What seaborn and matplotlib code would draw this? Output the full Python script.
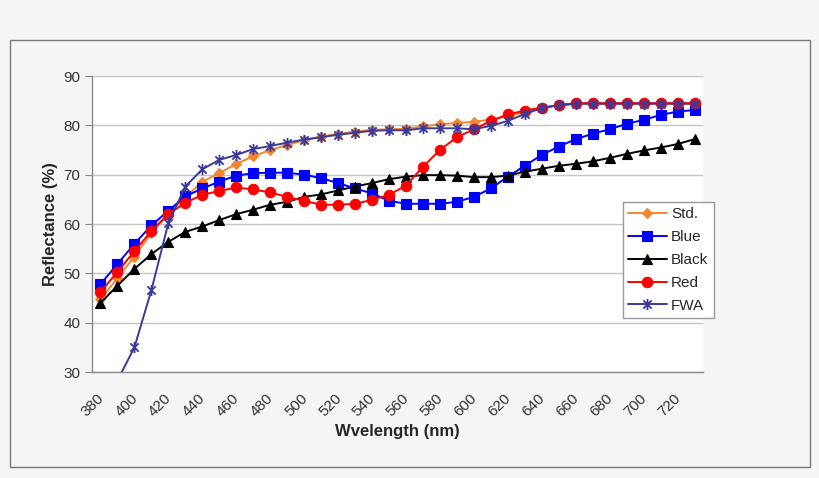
import matplotlib
matplotlib.use("Agg")
import matplotlib.pyplot as plt
import matplotlib.patches as patches
import matplotlib.transforms as mtransforms
from matplotlib.path import Path
import seaborn as sns

# wavelength categories (nm)
wavelengths = list(range(380, 740, 10))

std = [44.8, 49.0, 53.4, 58.2, 62.0, 65.4, 68.6, 70.3, 72.2, 73.7, 75.0, 76.0,
       77.0, 77.7, 78.3, 78.7, 79.1, 79.2, 79.3, 79.8, 80.2, 80.5, 80.7, 81.2,
       81.8, 82.7, 83.5, 84.0, 84.3, 84.3, 84.3, 84.3, 84.3, 84.3, 84.3, 84.3]
blue = [47.8, 51.9, 56.0, 59.7, 62.7, 65.6, 67.2, 68.6, 69.8, 70.3, 70.4, 70.4,
        70.0, 69.3, 68.3, 67.2, 66.2, 64.7, 64.1, 64.1, 64.1, 64.5, 65.5, 67.2,
        69.6, 71.8, 74.0, 75.7, 77.2, 78.3, 79.2, 80.3, 81.1, 82.1, 82.8, 83.1]
black = [44.0, 47.5, 50.9, 53.9, 56.4, 58.4, 59.5, 60.8, 62.0, 62.9, 63.9, 64.5,
         65.5, 66.0, 66.8, 67.6, 68.3, 69.1, 69.6, 69.9, 69.9, 69.8, 69.5, 69.5,
         69.8, 70.6, 71.2, 71.8, 72.2, 72.7, 73.4, 74.2, 74.9, 75.5, 76.2, 77.2]
red = [46.2, 50.3, 54.5, 58.6, 62.0, 64.3, 65.9, 66.7, 67.4, 67.0, 66.4, 65.5,
       64.7, 63.9, 63.9, 64.1, 64.9, 65.9, 67.8, 71.6, 75.0, 77.6, 79.2, 80.9,
       82.2, 83.0, 83.6, 84.1, 84.5, 84.5, 84.5, 84.5, 84.5, 84.5, 84.5, 84.5]
fwa = [18.0, 28.3, 35.0, 46.6, 60.2, 67.6, 71.1, 73.0, 74.0, 75.2, 75.8, 76.5,
       77.1, 77.6, 78.1, 78.5, 78.9, 79.0, 79.0, 79.4, 79.4, 79.4, 79.2, 79.9,
       80.9, 82.3, 83.5, 84.1, 84.4, 84.4, 84.4, 84.4, 84.4, 84.4, 84.4, 84.4]

series_names = ["Std.", "Blue", "Black", "Red", "FWA"]

sns.set_style("white")
plt.rcParams['font.family'] = ['Liberation Sans', 'DejaVu Sans']

# excel style star: x with a vertical bar
star = Path([(0, -1), (0, 1), (-0.75, -0.75), (0.75, 0.75), (-0.75, 0.75), (0.75, -0.75)],
            [Path.MOVETO, Path.LINETO, Path.MOVETO, Path.LINETO, Path.MOVETO, Path.LINETO])

styles = {
    "Std.": dict(color="#f7852a", marker="D", markersize=5.5),
    "Blue": dict(color="#0000ff", marker="s", markersize=7),
    "Black": dict(color="#000000", marker="^", markersize=7),
    "Red": dict(color="#ff0000", marker="o", markersize=7.5),
    "FWA": dict(color="#3a3a9a", marker=star, markersize=8, markeredgewidth=1.3),
}

fig = plt.figure(figsize=(8.2, 4.78), dpi=100)
fig.patch.set_facecolor("#f5f5f5")
fig.patches.append(patches.Rectangle((10 / 820, 1 - 467 / 478), 800 / 820, 427 / 478,
                                     transform=fig.transFigure, fill=False,
                                     edgecolor="#7a7a7a", linewidth=1))
ax = fig.add_axes([92 / 820, 1 - 372 / 478, 611 / 820, 296 / 478])
ax.set_facecolor("white")

idx = list(range(len(wavelengths)))
for name, values in zip(series_names, [std, blue, black, red, fwa]):
    st = styles[name]
    sns.lineplot(x=idx, y=values, ax=ax, label=name, color=st["color"],
                 marker=st["marker"], markersize=st["markersize"],
                 markeredgecolor=st["color"],
                 markeredgewidth=st.get("markeredgewidth", 0.8),
                 linewidth=1.4)

ax.set_xlim(-0.5, len(wavelengths) - 0.5)
ax.set_ylim(30, 90)
ax.set_yticks(range(30, 91, 10))
ax.yaxis.grid(True, color="#c4c4c4", linewidth=1)
ax.set_axisbelow(True)

# category ticks between categories, labels every other category
ax.set_xticks([i - 0.5 for i in range(len(wavelengths) + 1)], minor=True)
ax.set_xticks(idx[::2])
ax.set_xticklabels([str(w) for w in wavelengths[::2]], rotation=45, ha="right",
                   rotation_mode="anchor")
ax.tick_params(axis="x", which="major", length=0, labelsize=11, colors="#333333", pad=14)
ax.tick_params(axis="x", which="minor", length=4, color="#888888", direction="out")
ax.tick_params(axis="y", length=5, color="#888888", labelsize=11, colors="#333333",
               left=True, direction="out")
shift = mtransforms.ScaledTranslation(-4 / 100, 0, fig.dpi_scale_trans)
for lbl in ax.get_xticklabels():
    lbl.set_transform(lbl.get_transform() + shift)
for lbl in ax.get_xticklabels() + ax.get_yticklabels():
    lbl.set_color("#333333")

for side in ["top", "right"]:
    ax.spines[side].set_visible(False)
for side in ["left", "bottom"]:
    ax.spines[side].set_color("#888888")
    ax.spines[side].set_linewidth(1)

ax.set_xlabel("Wvelength (nm)", fontsize=12, fontweight="bold", labelpad=3)
ax.set_ylabel("Reflectance (%)", fontsize=12, fontweight="bold", labelpad=4)

leg = ax.legend(loc="upper left", bbox_to_anchor=(531 / 611, 1 - 126 / 296),
                borderaxespad=0, fontsize=11, frameon=True, fancybox=False,
                framealpha=1, edgecolor="#999999", handlelength=2.5,
                handletextpad=0.3, borderpad=0.35, labelspacing=0.58)
leg.get_frame().set_linewidth(1)

fig.savefig("out.png", dpi=100, facecolor=fig.get_facecolor())
